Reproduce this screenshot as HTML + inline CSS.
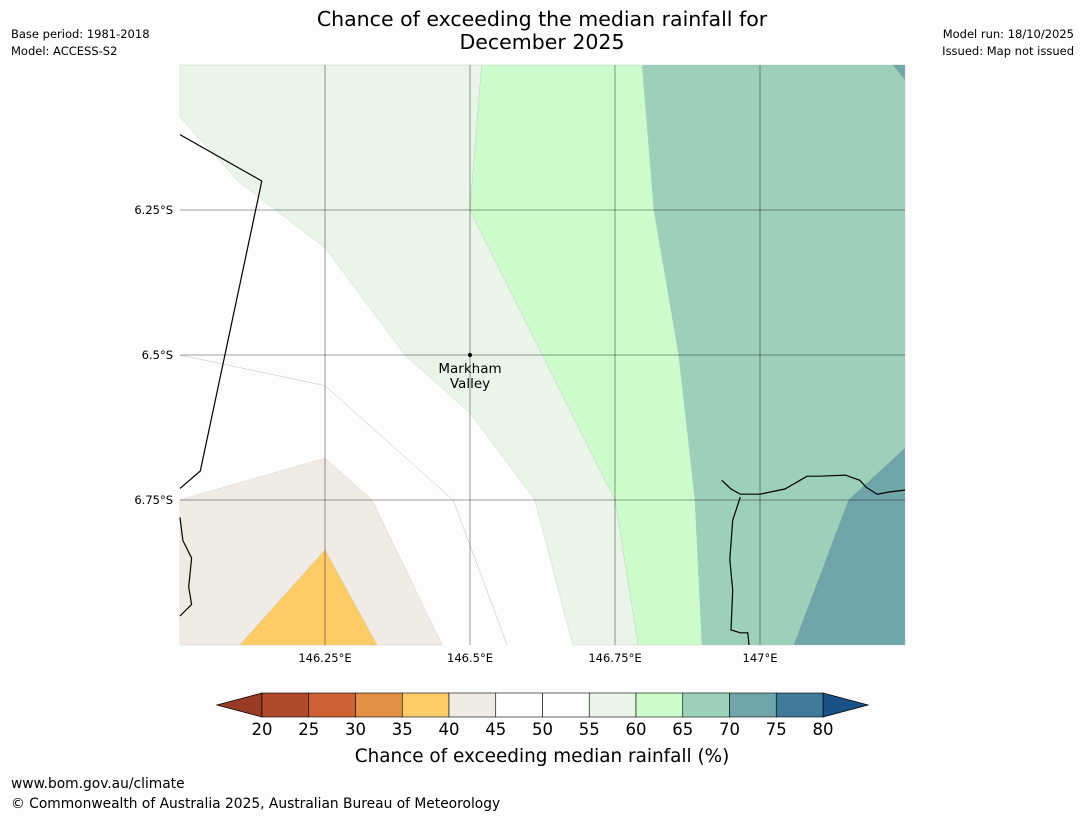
<!DOCTYPE html>
<html><head><meta charset="utf-8"><style>
body{margin:0;background:#fdfdfd;width:1085px;height:816px;overflow:hidden;font-family:"Liberation Sans","DejaVu Sans",sans-serif}
svg{position:absolute;left:0;top:0}
</style></head><body>
<svg width="1085" height="816" font-family="DejaVu Sans, Liberation Sans, sans-serif">
<text x="542" y="26" text-anchor="middle" font-size="20.5" fill="#000">Chance of exceeding the median rainfall for</text>
<text x="542" y="49" text-anchor="middle" font-size="20.5" fill="#000">December 2025</text>
<text x="11" y="38" font-size="11.5">Base period: 1981-2018</text>
<text x="11" y="55" font-size="11.5">Model: ACCESS-S2</text>
<text x="1074" y="38" font-size="11.5" text-anchor="end">Model run: 18/10/2025</text>
<text x="1074" y="55" font-size="11.5" text-anchor="end">Issued: Map not issued</text>
<g id="map"></g>
<g id="cbar"></g>
<text x="542" y="762" text-anchor="middle" font-size="18.4">Chance of exceeding median rainfall (%)</text>
<text x="11" y="788" font-size="13.8">www.bom.gov.au/climate</text>
<text x="11" y="808" font-size="13.8">© Commonwealth of Australia 2025, Australian Bureau of Meteorology</text>
</svg>
<script>
const NS="http://www.w3.org/2000/svg";
const lonTicks=[146.25,146.5,146.75,147];
const lonLabels=["146.25°E","146.5°E","146.75°E","147°E"];
const latTicks=[6.25,6.5,6.75];
const latLabels=["6.25°S","6.5°S","6.75°S"];
const lonMin=146,lonMax=147.25,latMin=6,latMax=7;
const X0=180,X1=905,Y0=65,Y1=645;
function xs(lon){return X0+(lon-lonMin)/(lonMax-lonMin)*(X1-X0);}
function ys(lat){return Y0+(lat-latMin)/(latMax-latMin)*(Y1-Y0);}
const regionColors=["#eaf5ea","#ccfccc","#9dd0b9","#6fa5a8","#6fa5a8","#f0ebe5","#fecc66"];
const regionNames=["region-55-60","region-60-65","region-65-70","region-70-75-ne","region-70-75-se","region-40-45","region-35-40"];
const regions=[
[[146,6],[146.52,6],[146.5,6.25],[146.75,6.75],[146.79,7],[146.677,7],[146.612,6.75],[146.5,6.6],[146.388,6.5],[146.25,6.315],[146.1,6.2],[146,6.09]],
[[146.52,6],[146.797,6],[146.817,6.25],[146.86,6.5],[146.888,6.75],[146.9,7],[146.79,7],[146.75,6.75],[146.5,6.25]],
[[146.797,6],[147.25,6],[147.25,6.66],[147.152,6.75],[147.058,7],[146.9,7],[146.888,6.75],[146.86,6.5],[146.817,6.25]],
[[147.229,6],[147.25,6],[147.25,6.026]],
[[147.25,6.66],[147.25,7],[147.058,7],[147.152,6.75]],
[[146,6.75],[146.25,6.678],[146.331,6.75],[146.452,7],[146,7]],
[[146.25,6.836],[146.34,7],[146.103,7]]
];
const contour50=[[146,6.5],[146.25,6.553],[146.471,6.75],[146.564,7]];
const coastW=[[146,6.12],[146.141,6.2],[146.035,6.7],[146,6.73]];
const coastSW=[[146,6.78],[146.005,6.82],[146.02,6.85],[146.015,6.9],[146.02,6.93],[146,6.95]];
const coastE=[[146.934,6.716],[146.95,6.731],[146.966,6.74],[146.983,6.74],[147,6.74],[147.043,6.731],[147.069,6.716],[147.081,6.709],[147.103,6.709],[147.147,6.707],[147.172,6.716],[147.183,6.728],[147.202,6.74],[147.224,6.736],[147.25,6.733]];
const coastE2=[[146.966,6.745],[146.953,6.785],[146.948,6.853],[146.953,6.905],[146.95,6.974],[146.966,6.979],[146.979,6.979],[146.981,7]];
const cbLevels=[20,25,30,35,40,45,50,55,60,65,70,75,80];
const cbColors=["#b04a28","#cc6233","#e09146","#fecc66","#f0ebe5","#ffffff","#ffffff","#eaf5ea","#ccfccc","#9dd0b9","#6fa5a8","#3f7a9a"];
const cbUnder="#993a24",cbOver="#1a5288";

function mk(tag,attrs,parent){const e=document.createElementNS(NS,tag);for(const k in attrs)e.setAttribute(k,attrs[k]);parent.appendChild(e);return e;}
const map=document.getElementById('map');
mk('rect',{x:X0,y:Y0,width:X1-X0,height:Y1-Y0,fill:"#fdfdfd"},map);
const pts=a=>a.map(p=>xs(p[0]).toFixed(1)+","+ys(p[1]).toFixed(1)).join(" ");
regions.forEach((r,i)=>{const p=mk('polygon',{points:pts(r),fill:regionColors[i],stroke:"#bbb","stroke-width":0.3},map);

});
const c50=mk('polyline',{points:pts(contour50),fill:"none",stroke:"#bbb","stroke-width":0.5},map);


[coastW,coastSW,coastE,coastE2].forEach((c,i)=>{const l=mk('polyline',{points:pts(c),fill:"none",stroke:"#000","stroke-width":1.2},map);

});
lonTicks.forEach((t,i)=>{const l=mk('line',{x1:xs(t),x2:xs(t),y1:Y0,y2:Y1,stroke:"#000","stroke-opacity":0.5,"stroke-width":0.8},map);


const tx=mk('text',{x:xs(t),y:Y1+17,"text-anchor":"middle","font-size":11.5},map);tx.textContent=lonLabels[i];

});
latTicks.forEach((t,i)=>{const l=mk('line',{x1:X0,x2:X1,y1:ys(t),y2:ys(t),stroke:"#000","stroke-opacity":0.5,"stroke-width":0.8},map);


const tx=mk('text',{x:X0-7,y:ys(t)+4,"text-anchor":"end","font-size":11.5},map);tx.textContent=latLabels[i];

});
const dot=mk('circle',{cx:xs(146.5),cy:ys(6.5),r:2,fill:"#000"},map);


const lb=mk('text',{x:xs(146.5),y:ys(6.5)+18,"text-anchor":"middle","font-size":13.5},map);lb.textContent="Markham";


const lb2=mk('text',{x:xs(146.5),y:ys(6.5)+33,"text-anchor":"middle","font-size":13.5},map);lb2.textContent="Valley";



const cb=document.getElementById('cbar');
const CX0=262,CX1=823,CY0=693,CY1=717;
const cx=v=>CX0+(v-cbLevels[0])/(cbLevels[cbLevels.length-1]-cbLevels[0])*(CX1-CX0);
const u=mk('polygon',{points:`${CX0},${CY0} ${CX0},${CY1} 217,${(CY0+CY1)/2}`,fill:cbUnder,stroke:"#000","stroke-width":0.8},cb);


const o=mk('polygon',{points:`${CX1},${CY0} ${CX1},${CY1} 868,${(CY0+CY1)/2}`,fill:cbOver,stroke:"#000","stroke-width":0.8},cb);


cbColors.forEach((c,i)=>{const r=mk('rect',{x:cx(cbLevels[i]),y:CY0,width:cx(cbLevels[i+1])-cx(cbLevels[i]),height:CY1-CY0,fill:c,stroke:"#000","stroke-width":0.6},cb);

});
cbLevels.forEach(v=>{const t=mk('text',{x:cx(v),y:735,"text-anchor":"middle","font-size":16.5},cb);t.textContent=v;

});
</script>
</body></html>
